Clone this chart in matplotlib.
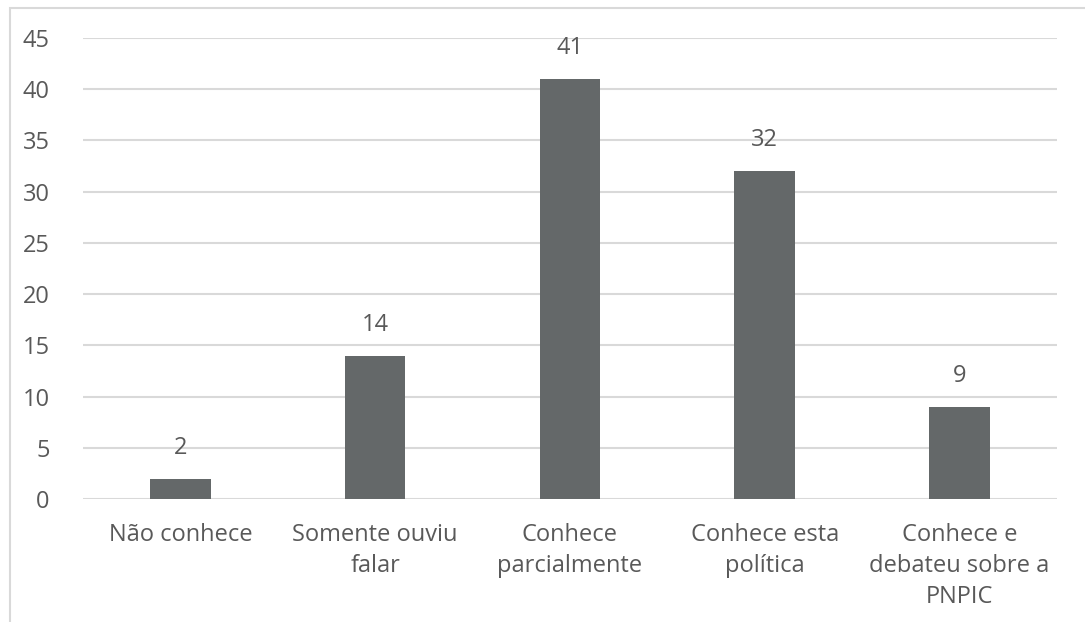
import matplotlib.pyplot as plt
from matplotlib.patches import Rectangle

categories = ['Não conhece', 'Somente ouviu\nfalar', 'Conhece\nparcialmente',
              'Conhece esta\npolítica', 'Conhece e\ndebateu sobre a\nPNPIC']
values = [2, 14, 41, 32, 9]
yticks = [0, 5, 10, 15, 20, 25, 30, 35, 40, 45]

plt.rcParams['font.family'] = ['Open Sans', 'DejaVu Sans']
text_color = '#595959'

fig = plt.figure(figsize=(10.85, 6.22), dpi=100)
ax = fig.add_axes([0.0765, 0.1977, 0.8975, 0.7412])

# outer chart border (light grey)
fig.patches.append(Rectangle((0.0092, -0.05), 1.2, 1.037, transform=fig.transFigure,
                             fill=False, edgecolor='#d9d9d9', linewidth=1.5))

x = range(len(categories))
ax.bar(x, values, width=0.31, color='#646869', zorder=3)
for xi, v in zip(x, values):
    ax.text(xi, v + 3.0, str(v), ha='center', va='center', fontsize=17, color=text_color)

ax.set_xlim(-0.5, len(categories) - 0.5)
ax.set_ylim(0, 45)
ax.set_yticks(yticks)
ax.set_xticks(list(x))
ax.set_xticklabels(categories, fontsize=17, color=text_color, linespacing=1.4)
ax.tick_params(axis='y', labelsize=17, labelcolor=text_color, length=0, pad=24)
ax.tick_params(axis='x', length=0, pad=17)
ax.grid(axis='y', color='#d9d9d9', linewidth=1.5, zorder=0)
for s in ax.spines.values():
    s.set_visible(False)

fig.savefig('out.png', dpi=100)
